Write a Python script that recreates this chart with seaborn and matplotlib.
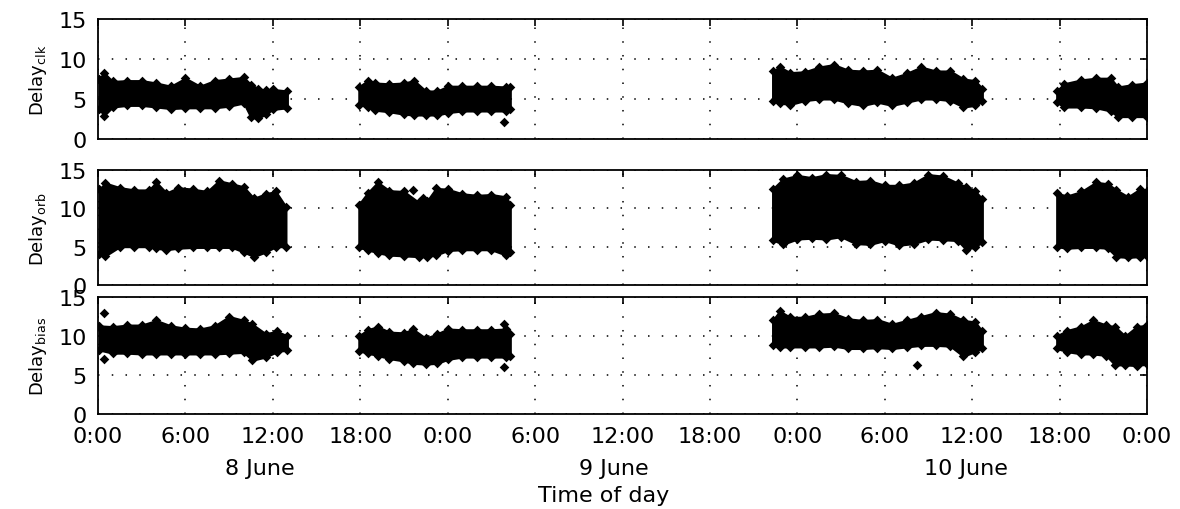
import matplotlib
matplotlib.use("Agg")
import matplotlib.pyplot as plt
import matplotlib.transforms as mtransforms
import numpy as np
import pandas as pd
import seaborn as sns

# ---------------- data (hours since 8 June 0:00) ----------------
tick_hours = [0, 6, 12, 18, 24, 30, 36, 42, 48, 54, 60, 66, 72]
tick_labels = ["0:00", "6:00", "12:00", "18:00", "0:00", "6:00", "12:00",
               "18:00", "0:00", "6:00", "12:00", "18:00", "0:00"]
day_labels = ["8 June", "9 June", "10 June"]
day_label_hours = [11.1, 35.4, 59.6]
panel_names = ["clk", "orb", "bias"]

# Delay_clk : per-segment time, lower envelope, upper envelope
clk_t = [[0.1, 0.4, 1, 2, 3, 4, 5, 6, 7, 8, 9, 10, 10.5, 11, 11.5, 12, 13],
         [17.9, 18.5, 19, 20, 21, 21.7, 22.5, 23.3, 24, 25, 26, 27, 28, 28.3],
         [46.3, 46.8, 47.5, 48.5, 49.5, 50.5, 51.5, 52.5, 53.5, 54.5, 55.5, 56.5, 57.5, 58.5, 59.4, 60.2, 60.7],
         [65.8, 66.3, 67.5, 68.5, 69.5, 70.0, 71.0, 72.0]]
clk_lo = [[3.8, 2.9, 4.0, 4.2, 4.2, 4.0, 3.8, 3.9, 3.9, 3.9, 4.1, 4.5, 2.7, 2.6, 3.1, 3.7, 3.9],
          [4.3, 4.0, 3.6, 3.4, 3.1, 3.0, 3.0, 3.0, 3.3, 3.5, 3.5, 3.5, 3.5, 3.7],
          [4.8, 4.5, 4.3, 4.8, 5.0, 5.0, 4.5, 4.2, 4.6, 4.2, 4.6, 5.0, 5.0, 4.8, 4.0, 4.2, 4.7],
          [4.6, 4.0, 4.0, 3.9, 3.5, 2.8, 2.8, 2.8]]
clk_hi = [[7.5, 8.3, 7.2, 7.3, 7.3, 7.0, 6.6, 7.6, 6.6, 7.3, 7.5, 7.7, 6.8, 6.3, 6.1, 6.2, 6.0],
          [6.5, 7.3, 7.0, 6.9, 7.0, 7.3, 6.0, 6.0, 6.6, 6.6, 6.6, 6.6, 6.5, 6.5],
          [8.5, 9.0, 8.3, 8.4, 9.0, 9.3, 8.6, 8.5, 8.6, 7.6, 8.2, 9.0, 8.5, 8.5, 7.5, 7.3, 6.3],
          [6.0, 6.9, 7.4, 7.6, 7.6, 6.5, 6.8, 7.0]]
clk_out_t = [27.9]
clk_out_v = [2.1]

# Delay_orb
orb_t = [[0.1, 0.5, 1.5, 2.5, 3.5, 4.0, 4.7, 5.5, 6.5, 7.5, 8.3, 9.2, 10.0, 10.7, 11.5, 12.2, 12.9],
         [17.9, 18.5, 19.2, 20.0, 21.0, 22.0, 22.6, 23.2, 24.0, 25.0, 26.0, 27.0, 28.0, 28.3],
         [46.3, 47.0, 48.0, 49.0, 50.0, 51.0, 52.0, 53.0, 54.0, 55.0, 56.0, 57.0, 58.0, 59.0, 59.6, 60.2, 60.7],
         [65.8, 66.5, 67.5, 68.5, 69.3, 69.9, 70.7, 71.5, 72.0]]
orb_lo = [[4.0, 3.8, 5.0, 5.0, 5.0, 4.8, 4.6, 4.8, 4.9, 4.9, 4.9, 4.9, 4.3, 3.7, 4.3, 5.0, 5.0],
          [4.9, 4.6, 4.2, 3.9, 3.8, 3.7, 3.7, 3.9, 4.5, 4.6, 4.6, 4.6, 3.9, 4.3],
          [5.9, 5.3, 6.0, 6.1, 6.0, 6.3, 5.4, 5.3, 5.8, 5.2, 5.4, 6.0, 5.9, 5.8, 4.6, 5.0, 5.6],
          [5.0, 4.8, 4.9, 4.9, 4.8, 3.7, 3.6, 3.7, 3.8]]
orb_hi = [[12.5, 13.3, 12.7, 12.4, 12.4, 13.4, 12.0, 12.7, 12.5, 12.2, 13.6, 13.2, 12.8, 11.3, 11.9, 12.2, 10.2],
          [10.5, 12.0, 13.4, 12.3, 12.2, 10.8, 11.0, 12.6, 12.5, 11.9, 11.7, 11.8, 11.5, 10.5],
          [12.5, 13.8, 14.3, 14.0, 14.4, 14.3, 13.5, 13.6, 13.0, 13.0, 13.3, 14.4, 14.2, 13.3, 12.8, 12.3, 11.2],
          [12.0, 11.6, 12.2, 13.4, 13.2, 12.4, 11.5, 12.5, 12.3]]
orb_out_t = [21.6, 22.3]
orb_out_v = [12.4, 11.4]

# Delay_bias
bias_t = [[0.1, 1.0, 2.0, 3.0, 4.0, 5.0, 6.0, 7.0, 8.0, 9.0, 10.0, 10.6, 11.5, 12.3, 13.0],
          [17.9, 18.5, 19.2, 20.0, 21.0, 21.6, 22.5, 23.3, 24.0, 25.0, 26.0, 27.0, 28.0, 28.3],
          [46.3, 46.8, 47.5, 48.5, 49.5, 50.5, 51.5, 52.5, 53.5, 54.5, 55.5, 56.5, 57.5, 58.5, 59.4, 60.2, 60.7],
          [65.8, 66.5, 67.5, 68.3, 69.2, 69.8, 70.5, 71.3, 72.0]]
bias_lo = [[8.2, 7.8, 7.8, 7.7, 7.7, 7.7, 7.7, 7.7, 7.7, 7.8, 7.9, 6.9, 7.3, 8.0, 8.2],
           [8.1, 7.8, 7.5, 7.1, 6.8, 6.5, 6.4, 6.5, 7.0, 7.3, 7.3, 7.3, 7.3, 7.5],
           [8.8, 8.6, 8.6, 8.6, 8.6, 8.7, 8.4, 8.4, 8.5, 8.4, 8.6, 8.8, 8.8, 8.7, 7.4, 8.0, 8.4],
           [8.4, 8.0, 7.7, 7.7, 7.5, 6.3, 6.3, 6.2, 6.4]]
bias_hi = [[11.3, 11.2, 11.4, 11.4, 12.0, 11.3, 11.0, 10.9, 11.3, 12.5, 12.0, 11.5, 10.3, 10.6, 10.0],
           [10.0, 10.8, 11.2, 10.5, 10.4, 10.9, 9.7, 10.3, 10.9, 10.8, 10.8, 10.8, 10.9, 10.3],
           [12.0, 13.2, 12.4, 12.4, 12.8, 12.9, 12.2, 12.0, 12.1, 11.5, 12.0, 12.5, 13.0, 12.8, 12.0, 11.8, 10.6],
           [10.0, 10.7, 11.2, 12.0, 11.4, 11.2, 10.0, 11.2, 11.4]]
bias_out_t = [0.4, 0.4, 27.9, 27.9, 56.2]
bias_out_v = [12.9, 7.0, 11.5, 6.0, 6.3]

# ---------------- style ----------------
sns.set_style("white")
plt.rcParams["font.family"] = ["DejaVu Sans"]
plt.rcParams["mathtext.fontset"] = "dejavusans"
plt.rcParams["text.color"] = "black"
plt.rcParams["axes.labelcolor"] = "black"

fig = plt.figure(figsize=(11.8, 5.1), dpi=100)
W, H = 1180.0, 510.0
left_px, right_px = 98, 1147
boxes = [(20, 140), (171, 286), (298, 415)]

panels = [
    (clk_t, clk_lo, clk_hi, clk_out_t, clk_out_v),
    (orb_t, orb_lo, orb_hi, orb_out_t, orb_out_v),
    (bias_t, bias_lo, bias_hi, bias_out_t, bias_out_v),
]

axes = []
for i, ((ts, los, his, ot, ov), (top, bot)) in enumerate(zip(panels, boxes)):
    ax = fig.add_axes([left_px / W, 1 - bot / H, (right_px - left_px) / W, (bot - top) / H])
    axes.append(ax)
    rows = []
    for t, lo, hi in zip(ts, los, his):
        ax.fill_between(t, lo, hi, color="black", linewidth=1.5, edgecolor="black", zorder=3)
        rows += [{"t": a, "v": b} for a, b in zip(t, lo)]
        rows += [{"t": a, "v": b} for a, b in zip(t, hi)]
    rows += [{"t": a, "v": b} for a, b in zip(ot, ov)]
    df = pd.DataFrame(rows)
    sns.scatterplot(data=df, x="t", y="v", marker="D", color="black", s=24,
                    linewidth=0, ax=ax, legend=False, zorder=4)

    ax.set_xlim(0, 72)
    ax.set_ylim(0, 15)
    ax.set_xticks(tick_hours)
    ax.set_yticks([0, 5, 10, 15])
    ax.set_yticklabels(["0", "5", "10", "15"])
    ax.grid(True, color="black", linestyle=(0, (1, 8)), linewidth=1.1)
    ax.set_axisbelow(True)
    ax.tick_params(direction="in", length=5, width=1.2, top=True, right=True,
                   labelsize=16, colors="black", pad=8)
    ax.tick_params(axis="x", pad=9)
    for sp in ax.spines.values():
        sp.set_visible(True)
        sp.set_color("black")
        sp.set_linewidth(1.3)
    ax.set_xlabel("")
    ax.set_ylabel(r"Delay$_{\mathrm{%s}}$" % panel_names[i], fontsize=13, color="black")
    ax.yaxis.set_label_coords(-0.047, 0.5)
    if i < 2:
        ax.set_xticklabels([])
    else:
        ax.set_xticklabels(tick_labels)

ax3 = axes[2]
trans = mtransforms.blended_transform_factory(ax3.transData, ax3.transAxes)
for h, lab in zip(day_label_hours, day_labels):
    ax3.text(h, -0.513, lab, transform=trans, ha="center", va="baseline",
             fontsize=16, color="black")
ax3.text(34.7, -0.745, "Time of day", transform=trans, ha="center", va="baseline",
         fontsize=16, color="black")

fig.savefig("out.png", dpi=100, facecolor="white")
